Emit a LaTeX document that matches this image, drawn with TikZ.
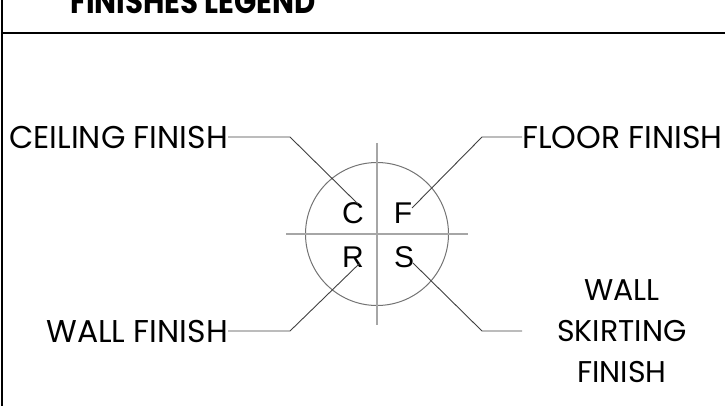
\documentclass[tikz,border=0pt]{standalone}
\usepackage{fontspec}
\setmainfont{Poppins}
\newfontfamily\letterfont{Liberation Sans}
\newfontfamily\titlefont[FakeStretch=0.86]{Poppins Bold}
\begin{document}
\begin{tikzpicture}[x=1pt,y=-1pt,
  lbl/.style={font=\fontsize{31.5}{41}\selectfont, inner sep=0pt},
  ltr/.style={font=\letterfont\fontsize{30}{32}\selectfont, inner sep=0pt},
  leader/.style={draw=black!75, line width=0.9pt},
  frame/.style={draw=black, line width=2pt},
  cross/.style={draw=black!35, line width=1.2pt}]
\useasboundingbox (0,0) rectangle (725,406);
\draw[frame] (2,-5) -- (2,406);
\draw[frame] (2,33) -- (725,33);
\node[font=\titlefont\fontsize{34}{40}\selectfont, inner sep=0pt, anchor=base west] (title) at (70,14) {FINISHES LEGEND};
% circle and cross
\coordinate (ctr) at (377,234);
\draw[draw=black!55, line width=1pt] (ctr) circle (71.5);
\coordinate (vt) at (377,143); \coordinate (vb) at (377,325);
\coordinate (hl) at (286,234); \coordinate (hr) at (468,234);
\draw[cross] (vt) -- (vb);
\draw[cross] (hl) -- (hr);
% letters
\node[ltr] (C) at (353,213) {C};
\node[ltr] (F) at (403,213) {F};
\node[ltr] (R) at (353,257) {R};
\node[ltr] (S) at (404,257) {S};
% labels
\node[lbl, anchor=east] (ceil) at (228,137) {CEILING FINISH};
\node[lbl, anchor=west] (floor) at (522,137) {FLOOR FINISH};
\node[lbl, anchor=east] (wall) at (228,331) {WALL FINISH};
\node[lbl, align=center, font=\fontsize{30}{41}\selectfont] (skirt) at (622,331) {WALL\\SKIRTING\\FINISH};
% leader points
\coordinate (c1) at (290,137); \coordinate (c2) at (358,204);
\coordinate (f1) at (482,137); \coordinate (f2) at (412,208);
\coordinate (w1) at (290,331); \coordinate (w2) at (360,263);
\coordinate (s1) at (482,331); \coordinate (s2) at (413,263);
\coordinate (s0) at (522,331);
\draw[leader] (ceil.east) -- (c1) -- (c2);
\draw[leader] (floor.west) -- (f1) -- (f2);
\draw[leader] (wall.east) -- (w1) -- (w2);
\draw[leader] (s0) -- (s1) -- (s2);
\end{tikzpicture}
\end{document}
